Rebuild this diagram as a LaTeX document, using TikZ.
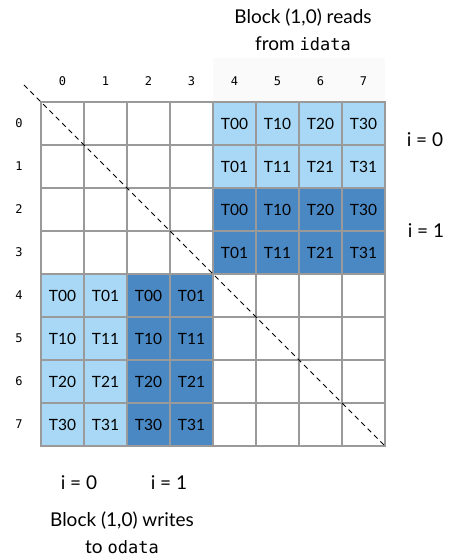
\documentclass[tikz,border=0pt]{standalone}
\usepackage{fontspec}
\setmainfont{Lato}
\newfontfamily\monofam{DejaVu Sans Mono}
\definecolor{lightb}{HTML}{A8D8F5}
\definecolor{darkb}{HTML}{4A88C4}
\definecolor{gridc}{HTML}{9A9A9A}
\definecolor{headbg}{HTML}{FAFAFA}
\begin{document}
\begin{tikzpicture}[x=1pt,y=-1pt,
  cell/.style={draw=gridc, line width=1.3pt, minimum size=43pt, inner sep=0pt,
    font=\fontsize{15.5}{18}\selectfont},
  idx/.style={font=\monofam\fontsize{12}{14}\selectfont, inner sep=0pt},
  big/.style={font=\fontsize{19}{27}\selectfont, align=center, inner sep=0pt},
  diag/.style={dashed, dash pattern=on 5pt off 4pt, line width=0.9pt, black}]
\useasboundingbox (0,0) rectangle (455,559);
\fill[headbg] (213,58) rectangle (385,102);
% white cells
\foreach \r in {0,...,3}{\foreach \c in {0,...,3}{
  \node[cell] (w\r\c) at ({62.5+43*\c},{123.5+43*\r}) {};}}
\foreach \r in {4,...,7}{\foreach \c in {4,...,7}{
  \node[cell] (w\r\c) at ({62.5+43*\c},{123.5+43*\r}) {};}}
% top-right block (reads)
\foreach \r/\b/\col in {0/0/lightb,1/1/lightb,2/0/darkb,3/1/darkb}{
  \foreach \c/\a in {4/0,5/1,6/2,7/3}{
    \node[cell, fill=\col] (t\r\c) at ({62.5+43*\c},{123.5+43*\r}) {T\a\b};}}
% bottom-left block (writes)
\foreach \r/\a in {4/0,5/1,6/2,7/3}{
  \foreach \c/\b/\col in {0/0/lightb,1/1/lightb,2/0/darkb,3/1/darkb}{
    \node[cell, fill=\col] (t\r\c) at ({62.5+43*\c},{123.5+43*\r}) {T\a\b};}}
% indices
\foreach \k in {0,...,7}{
  \node[idx] (col\k) at ({62.5+43*\k},81) {\k};
  \node[idx] (row\k) at (19,{123.5+43*\k}) {\k};}
% diagonal
\coordinate (dstart) at (24,85);
\coordinate (dend) at (386,447);
\draw[diag] (dstart) -- (dend);
% labels
\node[big] (title) at (303,30) {Block (1,0) reads\\from {\monofam\fontsize{17}{27}\selectfont idata}};
\node[big] (ri0) at (425,140) {i = 0};
\node[big] (ri1) at (426,231) {i = 1};
\node[big] (bi0) at (79,483) {i = 0};
\node[big] (bi1) at (169,483) {i = 1};
\node[big] (wtitle) at (122,533) {Block (1,0) writes\\to {\monofam\fontsize{17}{27}\selectfont odata}};
\end{tikzpicture}
\end{document}
